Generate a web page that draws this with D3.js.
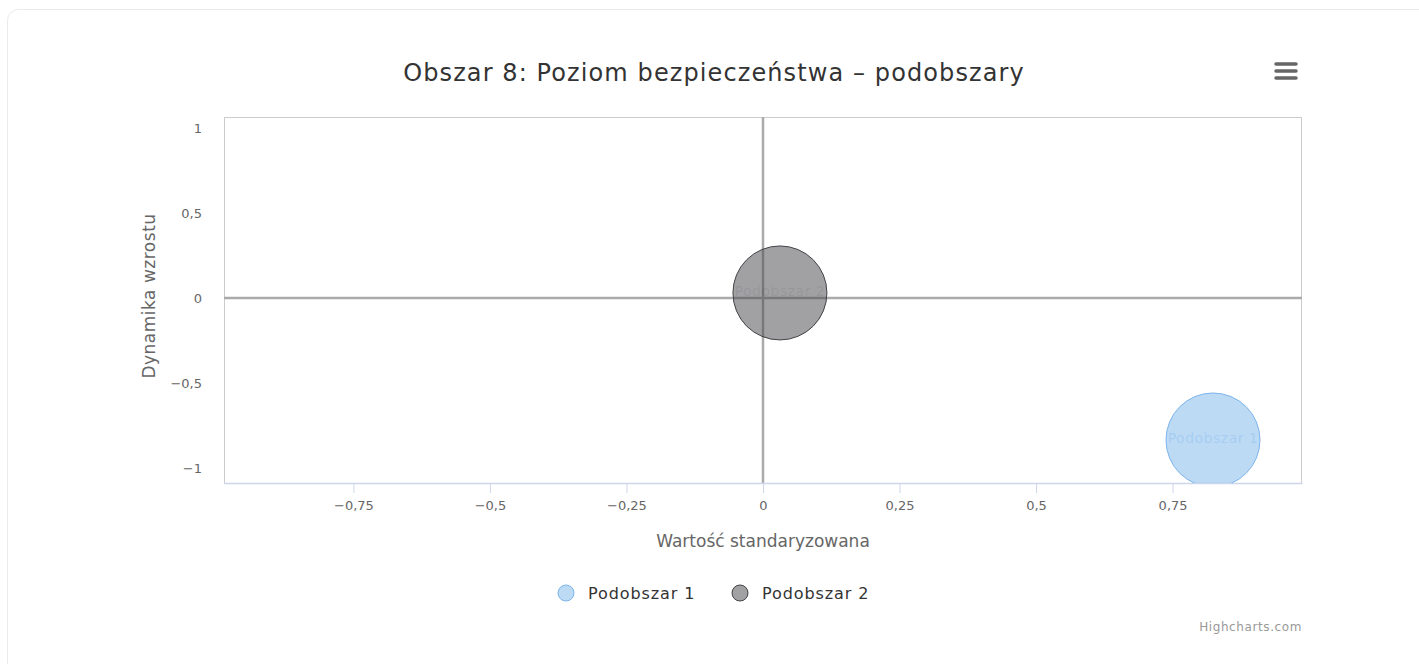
<!DOCTYPE html>
<html>
<head>
    <meta charset="utf-8">
    <title>Obszar 8</title>
    <style>
        body { margin: 0; background: #fff; }
        svg { display: block; font-family: "DejaVu Sans", sans-serif; }
    </style>
</head>
<body>
<script src="https://d3js.org/d3.v7.min.js"></script>
<script type="text/javascript">

    var seriesNames = ['Podobszar 1', 'Podobszar 2'];
    var xValues = [0.824, 0.031];
    var yValues = [-0.835, 0.03];
    var zValues = [1, 1];
    var xTicks = [-0.75, -0.5, -0.25, 0, 0.25, 0.5, 0.75];
    var yTicks = [-1, -0.5, 0, 0.5, 1];

    var fills = ['rgba(124,181,236,0.5)', 'rgba(67,67,72,0.5)'];
    var strokes = ['#7cb5ec', '#434348'];

    var width = 1419, height = 664;
    var plot = {left: 224, top: 117, right: 1302, bottom: 483};

    var fmt = function(d) { return String(d).replace('.', ',').replace('-', '\u2212'); };

    var x = d3.scaleLinear().domain([-0.987, 0.987]).range([plot.left, plot.right]);
    var y = d3.scaleLinear().domain([-1.088, 1.065]).range([plot.bottom, plot.top]);
    var r = d3.scaleSqrt().domain([0, d3.max(zValues)]).range([0, 47]);

    var svg = d3.select('body').append('svg')
        .attr('width', width)
        .attr('height', height);

    // card outline
    svg.append('rect')
        .attr('x', 7.5).attr('y', 9.5)
        .attr('width', width + 10).attr('height', height + 10)
        .attr('rx', 11)
        .attr('fill', '#fff')
        .attr('stroke', '#eaeaea');

    svg.append('text')
        .attr('x', 714).attr('y', 81)
        .attr('text-anchor', 'middle')
        .attr('fill', '#333')
        .style('font-size', '24px')
        .style('letter-spacing', '1.1px')
        .text('Obszar 8: Poziom bezpieczeństwa – podobszary');

    // menu icon
    svg.append('g').selectAll('line')
        .data([0, 1, 2]).enter().append('line')
        .attr('x1', 1276).attr('x2', 1296)
        .attr('y1', function(d) { return 64 + d * 7; })
        .attr('y2', function(d) { return 64 + d * 7; })
        .attr('stroke', '#666').attr('stroke-width', 3.5)
        .attr('stroke-linecap', 'round');

    svg.append('defs').append('clipPath').attr('id', 'clip')
        .append('rect')
        .attr('x', plot.left).attr('y', plot.top)
        .attr('width', plot.right - plot.left).attr('height', plot.bottom - plot.top);

    // plot border
    svg.append('rect')
        .attr('x', plot.left + 0.5).attr('y', plot.top + 0.5)
        .attr('width', plot.right - plot.left - 1).attr('height', plot.bottom - plot.top)
        .attr('fill', 'none').attr('stroke', '#ccc');

    // zero lines
    svg.append('line')
        .attr('x1', x(0)).attr('x2', x(0))
        .attr('y1', plot.top).attr('y2', plot.bottom)
        .attr('stroke', '#aaa').attr('stroke-width', 2.5);
    svg.append('line')
        .attr('x1', plot.left).attr('x2', plot.right)
        .attr('y1', y(0)).attr('y2', y(0))
        .attr('stroke', '#aaa').attr('stroke-width', 2.5);

    // x axis
    var xAxis = d3.axisBottom(x).tickValues(xTicks).tickSize(10).tickSizeOuter(0).tickPadding(8).tickFormat(fmt);
    var gx = svg.append('g')
        .attr('transform', 'translate(0,' + plot.bottom + ')')
        .call(xAxis);
    gx.select('.domain').attr('stroke', '#ccd6eb').attr('stroke-width', 1.5);
    gx.selectAll('.tick line').attr('stroke', '#ccd6eb');
    gx.selectAll('.tick text').attr('fill', '#666').style('font-size', '13px').style('font-family', '"DejaVu Sans", sans-serif');

    // y axis
    var yAxis = d3.axisLeft(y).tickValues(yTicks).tickSize(0).tickPadding(22).tickFormat(fmt);
    var gy = svg.append('g')
        .attr('transform', 'translate(' + plot.left + ',0)')
        .call(yAxis);
    gy.select('.domain').remove();
    gy.selectAll('.tick text').attr('fill', '#666').style('font-size', '13px').style('font-family', '"DejaVu Sans", sans-serif');

    svg.append('text')
        .attr('x', 763).attr('y', 547)
        .attr('text-anchor', 'middle')
        .attr('fill', '#666').style('font-size', '17px')
        .text('Wartość standaryzowana');

    svg.append('text')
        .attr('transform', 'translate(155,296) rotate(-90)')
        .attr('text-anchor', 'middle')
        .attr('fill', '#666').style('font-size', '17px')
        .style('letter-spacing', '0.5px')
        .text('Dynamika wzrostu');

    // bubbles
    var points = seriesNames.map(function(n, i) {
        return {name: n, x: xValues[i], y: yValues[i], z: zValues[i], i: i};
    });

    var bubbles = svg.append('g').attr('clip-path', 'url(#clip)');
    bubbles.selectAll('circle')
        .data(points).enter().append('circle')
        .attr('cx', function(d) { return x(d.x); })
        .attr('cy', function(d) { return y(d.y); })
        .attr('r', function(d) { return r(d.z); })
        .attr('fill', function(d) { return fills[d.i]; })
        .attr('stroke', function(d) { return strokes[d.i]; })
        .attr('stroke-width', 1);

    bubbles.selectAll('text')
        .data(points).enter().append('text')
        .attr('x', function(d) { return x(d.x); })
        .attr('y', function(d) { return y(d.y) + 3; })
        .attr('text-anchor', 'middle')
        .attr('fill', function(d) { return d.i === 0 ? 'rgba(124,181,236,0.35)' : 'rgba(67,67,72,0.12)'; })
        .style('font-size', '14px')
        .style('letter-spacing', '0.5px')
        .text(function(d) { return d.name; });

    // legend
    var legendX = [566, 740];
    var legend = svg.append('g').selectAll('g')
        .data(points).enter().append('g')
        .attr('transform', function(d, i) { return 'translate(' + legendX[i] + ',593)'; });
    legend.append('circle')
        .attr('r', 8)
        .attr('fill', function(d) { return fills[d.i]; })
        .attr('stroke', function(d) { return strokes[d.i]; });
    legend.append('text')
        .attr('x', 22).attr('y', 6)
        .attr('fill', '#333').style('font-size', '16px')
        .style('letter-spacing', '0.9px')
        .text(function(d) { return d.name; });

    svg.append('text')
        .attr('x', 1302).attr('y', 631)
        .attr('text-anchor', 'end')
        .attr('fill', '#999').style('font-size', '12px')
        .style('letter-spacing', '0.6px')
        .text('Highcharts.com');

</script>
</body>
</html>
